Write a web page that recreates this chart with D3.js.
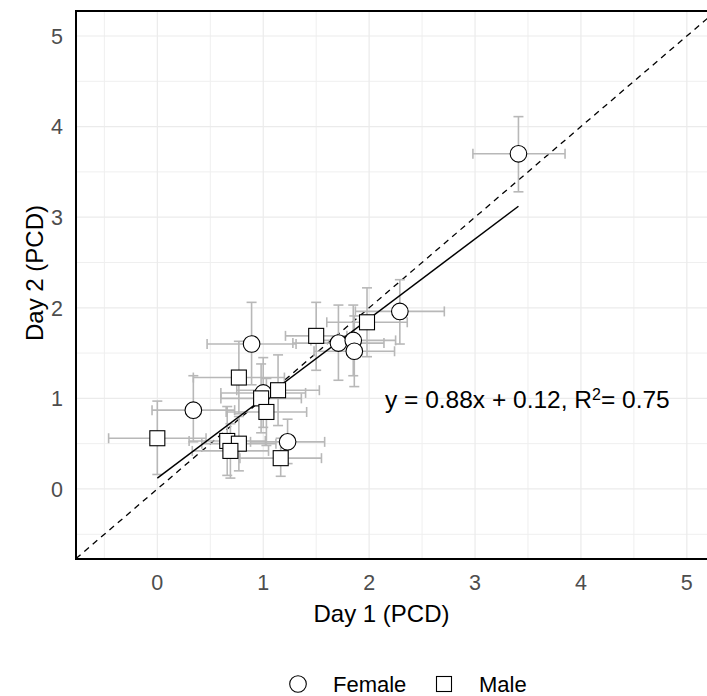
<!DOCTYPE html>
<html>
<head>
<meta charset="utf-8">
<script src="https://cdn.jsdelivr.net/npm/d3@7"></script>
<style>
  body { margin: 0; background: #fff; }
  svg { display: block; font-family: "Liberation Sans", Arial, Helvetica, sans-serif; }
</style>
</head>
<body>
<div id="chart"></div>
<script>
// values (PCD on day 1 vs day 2, with error bars)
const femaleX   = [3.41, 0.89, 0.34, 1.00, 1.23, 1.71, 1.85, 1.86, 2.29]
const femaleXlo = [2.98, 0.47, -0.05, 0.60, 0.88, 1.28, 1.45, 1.48, 1.87]
const femaleXhi = [3.85, 1.31, 0.73, 1.40, 1.58, 2.14, 2.25, 2.24, 2.71]
const femaleY   = [3.70, 1.60, 0.87, 1.06, 0.52, 1.61, 1.64, 1.52, 1.96]
const femaleYlo = [3.28, 1.15, 0.52, 0.68, 0.28, 1.20, 1.25, 1.13, 1.60]
const femaleYhi = [4.11, 2.06, 1.25, 1.45, 0.77, 2.03, 2.03, 1.91, 2.31]

const maleX   = [0.00, 0.77, 0.66, 0.77, 0.69, 0.98, 1.03, 1.14, 1.165, 1.50, 1.98]
const maleXlo = [-0.46, 0.34, 0.30, 0.42, 0.33, 0.60, 0.65, 0.75, 0.78, 1.21, 1.60]
const maleXhi = [0.46, 1.20, 1.02, 1.12, 1.05, 1.36, 1.41, 1.53, 1.55, 1.79, 2.36]
const maleY   = [0.56, 1.23, 0.53, 0.50, 0.42, 1.00, 0.85, 1.09, 0.34, 1.69, 1.84]
const maleYlo = [0.16, 0.83, 0.15, 0.20, 0.12, 0.62, 0.48, 0.70, 0.14, 1.31, 1.46]
const maleYhi = [0.97, 1.63, 0.91, 0.80, 0.72, 1.38, 1.22, 1.48, 0.56, 2.06, 2.22]

const ticks = [0, 1, 2, 3, 4, 5]
const minorTicks = [-0.5, 0.5, 1.5, 2.5, 3.5, 4.5]
const slope = 0.88, intercept = 0.12
const eqLabel = ["y = 0.88x + 0.12, R", "2", "= 0.75"]
const groups = ["Female", "Male"]

const width = 707, height = 696
const pLeft = 76, pRight = 712, pTop = 11, pBottom = 559

let svg = d3.select("#chart").append("svg")
  .attr("width", width).attr("height", height)

let x = d3.scaleLinear([-0.768, 5.25], [pLeft, pLeft + (5.25 + 0.768) * 105.9])
let y = d3.scaleLinear([-0.773, 5.276], [pBottom, pTop])

// grid
let grid = svg.append("g")
grid.selectAll(".minx").data(minorTicks).enter().append("line")
  .attr("x1", d => x(d)).attr("x2", d => x(d)).attr("y1", pTop).attr("y2", pBottom)
  .attr("stroke", "#efefef").attr("stroke-width", 1)
grid.selectAll(".miny").data(minorTicks).enter().append("line")
  .attr("y1", d => y(d)).attr("y2", d => y(d)).attr("x1", pLeft).attr("x2", pRight)
  .attr("stroke", "#efefef").attr("stroke-width", 1)
grid.selectAll(".majx").data(ticks).enter().append("line")
  .attr("x1", d => x(d)).attr("x2", d => x(d)).attr("y1", pTop).attr("y2", pBottom)
  .attr("stroke", "#ebebeb").attr("stroke-width", 1.2)
grid.selectAll(".majy").data(ticks).enter().append("line")
  .attr("y1", d => y(d)).attr("y2", d => y(d)).attr("x1", pLeft).attr("x2", pRight)
  .attr("stroke", "#ebebeb").attr("stroke-width", 1.2)

// y = x reference line
svg.append("line")
  .attr("x1", x(-0.768)).attr("y1", y(-0.768))
  .attr("x2", x(5.3)).attr("y2", y(5.3))
  .attr("stroke", "black").attr("stroke-width", 1.3)
  .attr("stroke-dasharray", "6,5")

// build rows from the arrays
let rows = []
femaleX.forEach((v, i) => rows.push({g: "Female", x: v, xlo: femaleXlo[i], xhi: femaleXhi[i],
  y: femaleY[i], ylo: femaleYlo[i], yhi: femaleYhi[i]}))
maleX.forEach((v, i) => rows.push({g: "Male", x: v, xlo: maleXlo[i], xhi: maleXhi[i],
  y: maleY[i], ylo: maleYlo[i], yhi: maleYhi[i]}))

// error bars
let cap = 5
let eb = svg.append("g").attr("stroke", "#b8b8b8").attr("stroke-width", 1.6).attr("fill", "none")
rows.forEach(d => {
  eb.append("line").attr("x1", x(d.xlo)).attr("x2", x(d.xhi)).attr("y1", y(d.y)).attr("y2", y(d.y))
  eb.append("line").attr("x1", x(d.xlo)).attr("x2", x(d.xlo)).attr("y1", y(d.y) - cap).attr("y2", y(d.y) + cap)
  eb.append("line").attr("x1", x(d.xhi)).attr("x2", x(d.xhi)).attr("y1", y(d.y) - cap).attr("y2", y(d.y) + cap)
  eb.append("line").attr("y1", y(d.ylo)).attr("y2", y(d.yhi)).attr("x1", x(d.x)).attr("x2", x(d.x))
  eb.append("line").attr("y1", y(d.ylo)).attr("y2", y(d.ylo)).attr("x1", x(d.x) - cap).attr("x2", x(d.x) + cap)
  eb.append("line").attr("y1", y(d.yhi)).attr("y2", y(d.yhi)).attr("x1", x(d.x) - cap).attr("x2", x(d.x) + cap)
})

// regression line over the range of day 1 values
let allX = femaleX.concat(maleX)
let xr = d3.extent(allX)
svg.append("line")
  .attr("x1", x(xr[0])).attr("y1", y(slope * xr[0] + intercept))
  .attr("x2", x(xr[1])).attr("y2", y(slope * xr[1] + intercept))
  .attr("stroke", "black").attr("stroke-width", 1.5)

// points
function drawShape(sel, g, cx, cy) {
  if (g === "Female") {
    sel.append("circle").attr("cx", cx).attr("cy", cy).attr("r", 8.3)
      .attr("fill", "white").attr("stroke", "black").attr("stroke-width", 1.1)
  } else {
    sel.append("rect").attr("x", cx - 7.5).attr("y", cy - 7.5).attr("width", 15).attr("height", 15)
      .attr("fill", "white").attr("stroke", "black").attr("stroke-width", 1.1)
  }
}
let pts = svg.append("g")
rows.forEach(d => drawShape(pts, d.g, x(d.x), y(d.y)))

// panel border (top, left, bottom)
svg.append("rect")
  .attr("x", pLeft).attr("y", pTop).attr("width", pRight - pLeft).attr("height", pBottom - pTop)
  .attr("fill", "none").attr("stroke", "black").attr("stroke-width", 2)

// tick labels
svg.append("g").selectAll("text").data(ticks).enter().append("text")
  .attr("x", d => x(d)).attr("y", 590)
  .attr("text-anchor", "middle").attr("font-size", 21.5).attr("fill", "#4d4d4d")
  .text(d => d)
svg.append("g").selectAll("text").data(ticks).enter().append("text")
  .attr("x", 63).attr("y", d => y(d)).attr("dy", "0.36em")
  .attr("text-anchor", "end").attr("font-size", 21.5).attr("fill", "#4d4d4d")
  .text(d => d)

// axis titles
svg.append("text").attr("x", 381.5).attr("y", 622)
  .attr("text-anchor", "middle").attr("font-size", 24).attr("fill", "black")
  .text("Day 1 (PCD)")
svg.append("text").attr("transform", "translate(43,273) rotate(-90)")
  .attr("text-anchor", "middle").attr("font-size", 24).attr("fill", "black")
  .text("Day 2 (PCD)")

// equation
let eq = svg.append("text").attr("x", 385).attr("y", 408)
  .attr("font-size", 24.5).attr("fill", "black")
eq.append("tspan").text(eqLabel[0])
eq.append("tspan").attr("font-size", 16).attr("dy", -8).text(eqLabel[1])
eq.append("tspan").attr("dy", 8).text(eqLabel[2])

// legend
let legX = [298, 444]
let leg = svg.append("g")
groups.forEach((g, i) => {
  drawShape(leg, g, legX[i], 684)
  leg.append("text").attr("x", legX[i] + 35).attr("y", 692)
    .attr("font-size", 22).attr("fill", "black").text(g)
})
</script>
</body>
</html>
